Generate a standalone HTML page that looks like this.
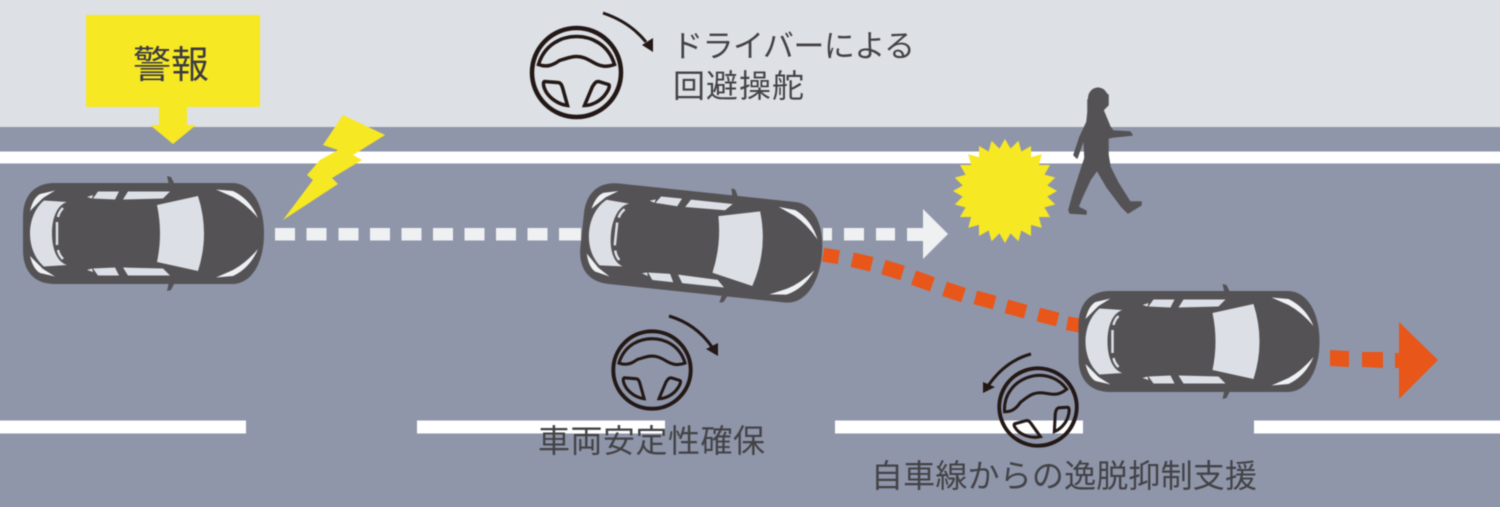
<!DOCTYPE html>
<html lang="ja">
<head>
<meta charset="utf-8">
<title>警報</title>
<style>
html,body{margin:0;padding:0;width:1500px;height:507px;overflow:hidden;background:#8f96aa}
svg{display:block}
.soft{filter:blur(0.5px)}
text{font-family:"Liberation Sans","Noto Sans CJK JP",sans-serif;fill:#434346}
</style>
</head>
<body>
<svg width="1500" height="507" viewBox="0 0 1500 507" xmlns="http://www.w3.org/2000/svg">
<defs>
  <g id="half">
    <path d="M123,199.500 L128,191.500 L170,191.500 L163,198.500Z M93,198.500 L98,191.500 L119,191.500 L115,199.500Z M87,197 L93,195 L92,198.500Z" fill="#dce0e6"/>
    <path d="M216,189.500 L233,191 Q250,199 258,218 Q246,204 233,197Z M30,211 Q33,198 40,194 L55,190.500 L43,198Z" fill="#eef0f3"/>
    <path d="M167,176 L171,177 L175,185 L169,185Z" fill="#545254"/>
    <path d="M63,208 Q59,212 58,217" fill="none" stroke="#dce0e6" stroke-width="2.500"/>
  </g>
  <g id="car">
    <path d="M55,183 L232,183 C252,183 264,205 264,233.500 C264,262 252,284 232,284 L55,284 C33,284 23,270 23,250 L23,217 C23,197 33,183 55,183Z" fill="#545254"/>
    <path d="M157,205 L198,196 Q210,233.500 198,271 L157,262 Q163,233.500 157,205Z" fill="#dce0e6"/>
    <path d="M44,200.500 L67,202 C57,205 52,218 52,233.500 C52,249 57,262 67,265 L44,266.500 C34,258 30,245 30,233.500 C30,222 34,209 44,200.500Z" fill="#dce0e6"/>
    <path d="M57,222 L57,245" fill="none" stroke="#dce0e6" stroke-width="2.500"/>
    <use href="#half"/>
    <use href="#half" transform="translate(0,467) scale(1,-1)"/>
  </g>
  <g id="wheel" fill="none" stroke="#231815">
    <circle r="44.500" stroke-width="4.500"/>
    <path stroke-width="3.500" d="M-38,-8 C-32,-28 -15,-36 0,-36 C15,-36 32,-28 38,-8 C30,-5 24,-6 17,-10 C10,-14 6,-16 0,-16 C-6,-16 -10,-14 -17,-12 C-24,-7 -30,-5 -38,-8Z"/>
    <path stroke-width="3.500" d="M-32,9 L-19,10 C-16,10 -15,12 -14,15 L-9,33 C-18,32 -26,26 -30,20 C-33,15 -34,10 -32,9Z"/>
    <path stroke-width="3.500" d="M32,12 L22,9 C19,9 18,11 16,14 L8,33 C16,33 24,28 28,23 C32,18 34,13 32,12Z"/>
  </g>
  <polygon id="tri" points="0,-52 45,26 -45,26"/>
</defs>

<g class="soft">
<rect x="-20" y="-20" width="1540" height="547" fill="#8f96aa"/>
<rect x="-20" y="-20" width="1540" height="147" fill="#dde0e5"/>
<rect x="-20" y="151.500" width="1540" height="12" fill="#fff"/>
<rect x="-20" y="420.500" width="266" height="13" fill="#fff"/>
<rect x="417" y="420.500" width="248" height="13" fill="#fff"/>
<rect x="835" y="420.500" width="248" height="13" fill="#fff"/>
<rect x="1254" y="420.500" width="266" height="13" fill="#fff"/>

<!-- warning box -->
<rect x="86" y="15" width="174" height="92" fill="#f7e824"/>
<polygon points="159,107 187,107 187,125 196,125 173,144 150,125 159,125" fill="#f7e824"/>
<text x="133" y="78" font-size="38" style="fill:#3a3a44">警報</text>

<!-- lightning -->
<polygon points="343,115 385,135 353,155 362,160 332,178 338,184 283,220 313,180 307,175 320,160 338,150 323,145" fill="#f7e824"/>

<!-- white dashes -->
<g fill="#eef0f2">
  <rect x="275" y="228" width="20" height="12.500"/>
  <rect x="306.500" y="228" width="20" height="12.500"/>
  <rect x="338.500" y="228" width="20" height="12.500"/>
  <rect x="370" y="228" width="20" height="12.500"/>
  <rect x="401.500" y="228" width="20" height="12.500"/>
  <rect x="433" y="228" width="20" height="12.500"/>
  <rect x="464.500" y="228" width="20" height="12.500"/>
  <rect x="496" y="228" width="20" height="12.500"/>
  <rect x="527.500" y="228" width="20" height="12.500"/>
  <rect x="559" y="228" width="22" height="12.500"/>
  <rect x="823" y="228" width="9" height="12.500"/>
  <rect x="844" y="228" width="20" height="12.500"/>
  <rect x="876" y="228" width="19" height="12.500"/>
  <polygon points="907,228 923,228 923,209 948,234 923,259 923,241 907,241"/>
</g>

<!-- orange dashes -->
<g fill="#e8561a">
  <rect x="-8" y="-7" width="16" height="14" transform="translate(831,256) rotate(9)"/>
  <rect x="-10" y="-7.500" width="20" height="15" transform="translate(862,262) rotate(13)"/>
  <rect x="-10" y="-7.500" width="20" height="15" transform="translate(893,270) rotate(17)"/>
  <rect x="-10" y="-7.500" width="20" height="15" transform="translate(923,281) rotate(20)"/>
  <rect x="-10" y="-7.500" width="20" height="15" transform="translate(954,292) rotate(18)"/>
  <rect x="-10" y="-7" width="20" height="14" transform="translate(985,300) rotate(15)"/>
  <rect x="-10" y="-7" width="20" height="14" transform="translate(1016,309) rotate(15)"/>
  <rect x="-10" y="-7" width="20" height="14" transform="translate(1048,317) rotate(14)"/>
  <rect x="-10" y="-7" width="20" height="14" transform="translate(1077,325) rotate(10)"/>
  <polygon points="1330,350 1349,351 1349,367 1330,366"/>
  <polygon points="1362,352 1383,352 1383,368 1362,367"/>
  <polygon points="1395,353 1399,353 1399,322 1438,360 1399,399 1399,368 1395,368"/>
</g>

<!-- cars -->
<use href="#car"/>
<use href="#car" transform="translate(558.500,9.500) rotate(6 143.500 233.500)"/>
<use href="#car" transform="translate(1055.500,108)"/>

<!-- starburst -->
<g fill="#f7e824" transform="translate(1005,191)">
  <use href="#tri"/>
  <use href="#tri" transform="rotate(15)"/>
  <use href="#tri" transform="rotate(30)"/>
  <use href="#tri" transform="rotate(45)"/>
  <use href="#tri" transform="rotate(60)"/>
  <use href="#tri" transform="rotate(75)"/>
  <use href="#tri" transform="rotate(90)"/>
  <use href="#tri" transform="rotate(105)"/>
</g>

<!-- pedestrian -->
<ellipse cx="1098" cy="98" rx="10" ry="10.500" fill="#545254"/>
<polygon fill="#545254" stroke="#545254" stroke-width="1.500" stroke-linejoin="round" points="1098,88 1108,95 1108,105 1103,110 1110,127 1113,131 1130,132 1132,135 1113,137 1108,138 1108,155 1110,167 1118,183 1130,202 1141,202 1141,205 1128,213 1122,207 1107,187 1097,170 1090,180 1082,197 1078,207 1086,211 1086,214 1070,213 1069,210 1073,195 1085,158 1084,138 1077,158 1074,155 1080,137 1087,122 1088,112 1088,100 1092,92"/>

<!-- steering wheel 1 -->
<use href="#wheel" transform="translate(576.500,72.500)"/>
<path d="M603,13 Q630,22 646,42" fill="none" stroke="#231815" stroke-width="3"/>
<polygon points="642,45 653,38 653,52" fill="#231815"/>

<!-- steering wheel 2 -->
<use href="#wheel" transform="translate(652,370) scale(0.87)"/>
<path d="M669,316 Q696,324 712,347" fill="none" stroke="#231815" stroke-width="3"/>
<polygon points="706,349 718,343 718,356" fill="#231815"/>

<!-- steering wheel 3 -->
<use href="#wheel" transform="translate(1038,407) rotate(-20) scale(0.87)"/>
<path d="M1031,354 Q1005,361 988,386" fill="none" stroke="#231815" stroke-width="3"/>
<polygon points="983,393 983,382 995,387" fill="#231815"/>

<!-- labels -->
<text x="672" y="57" font-size="31" textLength="243" lengthAdjust="spacing">ドライバーによる</text>
<text x="673" y="97" font-size="32" textLength="131" lengthAdjust="spacing">回避操舵</text>
<text x="538" y="452" font-size="32" textLength="227" lengthAdjust="spacing">車両安定性確保</text>
<text x="871" y="487" font-size="32" textLength="386" lengthAdjust="spacing">自車線からの逸脱抑制支援</text>
</g>
</svg>
</body>
</html>
